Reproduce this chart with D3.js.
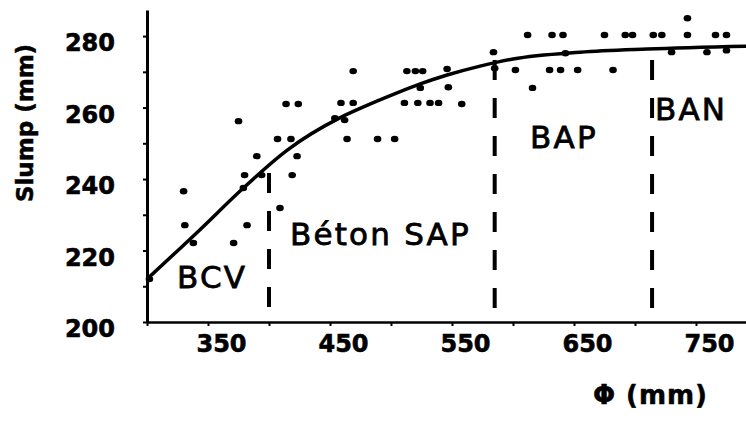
<!DOCTYPE html>
<html>
<head>
<meta charset="utf-8">
<script src="https://cdn.jsdelivr.net/npm/d3@7"></script>
<style>
  body { margin: 0; background: #fff; }
  svg { display: block; }
</style>
</head>
<body>
<svg width="746" height="421"></svg>
<script>
// measured points (diameter Φ in mm, slump in mm)
const phi = [302, 330, 331, 338, 375, 371, 382, 379, 380, 390, 394, 409, 407, 418, 419, 423, 414, 424,
  454, 459, 464, 462, 469, 469, 489, 503, 511, 522, 532, 539, 513, 520, 526, 547, 524, 558, 546,
  602, 584, 585, 612, 632, 641, 675, 692, 698, 715, 722, 743, 743, 766, 775, 616, 630, 639, 653,
  682, 643, 730, 759, 775];
const slump = [212, 236.6, 227.1, 222.1, 256.2, 222.1, 227.1, 237.5, 241.1, 246.4, 241.1, 231.9, 251.2,
  251.2, 241.1, 246.4, 261, 261, 257, 261.3, 251.2, 256.5, 270.2, 261.3, 251.2, 251.2, 261.3, 261.3,
  261.3, 261.3, 270.2, 270.2, 270.2, 265.7, 265.5, 261, 270.8, 270.5, 275.5, 271, 280.3, 280.3, 280.3,
  280.3, 280.3, 280.3, 280.3, 280.3, 285, 280.3, 280.3, 280.3, 265.5, 270.5, 270.5, 270.5, 270.5,
  275.2, 275.5, 275.5, 276];

// fitted trend
const fitPhi = [300, 343, 379, 415, 458, 477, 505, 524, 546, 573, 600, 655, 710, 793];
const fitSlump = [212, 225.7, 237.5, 248.1, 257.1, 260.1, 264.1, 266.6, 269.1, 271.6, 273.6, 275.5, 276.4, 277.2];

// zone boundaries
const zoneBounds = [400, 585, 714];
const zoneTops = [241.7, 273.3, 273.3];
const zoneNames = ["BCV", "Béton SAP", "BAP", "BAN"];

const xTickVals = [300, 350, 400, 450, 500, 550, 600, 650, 700, 750];
const xLabels = [350, 450, 550, 650, 750];
const yTickVals = [200, 210, 220, 230, 240, 250, 260, 270, 280];
const yLabels = [200, 220, 240, 260, 280];

const svg = d3.select("svg");
svg.append("rect").attr("width", 746).attr("height", 421).attr("fill", "#fff");

const x = d3.scaleLinear().domain([300, 791]).range([147, 746]);
const y = d3.scaleLinear().domain([200, 287.3]).range([322, 10]);

const font = "'DejaVu Sans', Verdana, sans-serif";

// axes
const gx = svg.append("g").attr("transform", "translate(0,322)")
  .call(d3.axisBottom(x).tickValues(xTickVals).tickSize(4).tickSizeOuter(0).tickPadding(9)
    .tickFormat(d => xLabels.includes(d) ? d : ""));
gx.select(".domain").attr("stroke-width", 2.5);
gx.selectAll(".tick line").attr("stroke-width", 2);
gx.selectAll("text").attr("dx", 13)
  .style("font-family", font).style("font-weight", "bold").style("font-size", "24px")
  .attr("fill", "#000").attr("stroke", "#000").attr("stroke-width", 0.6);

const gy = svg.append("g").attr("transform", "translate(147,0)")
  .call(d3.axisLeft(y).tickValues(yTickVals).tickSize(4).tickSizeOuter(0).tickPadding(28)
    .tickFormat(d => yLabels.includes(d) ? d : ""));
gy.select(".domain").attr("stroke-width", 3);
gy.selectAll(".tick line").attr("stroke-width", 2);
gy.selectAll("text").attr("y", 7)
  .style("font-family", font).style("font-weight", "bold").style("font-size", "24px")
  .attr("fill", "#000").attr("stroke", "#000").attr("stroke-width", 0.6);

// axis titles
svg.append("text")
  .attr("transform", "translate(33,123) rotate(-90)")
  .attr("text-anchor", "middle")
  .style("font-family", font).style("font-weight", "bold").style("font-size", "23px")
  .attr("stroke", "#000").attr("stroke-width", 0.5)
  .text("Slump (mm)");

svg.append("text")
  .attr("x", 708).attr("y", 404)
  .attr("text-anchor", "end")
  .style("font-family", font).style("font-weight", "bold").style("font-size", "26px")
  .style("letter-spacing", "1px")
  .attr("stroke", "#000").attr("stroke-width", 0.5)
  .text("Φ (mm)");

// zone dividers
svg.selectAll(".zone")
  .data(zoneBounds)
  .enter()
  .append("line")
  .attr("class", "zone")
  .attr("x1", d => x(d)).attr("x2", d => x(d))
  .attr("y1", (d, i) => y(zoneTops[i])).attr("y2", y(200))
  .attr("stroke", "#000").attr("stroke-width", 4)
  .attr("stroke-dasharray", "20,18");

// zone labels (anchor in data units)
const labelAt = [[324.6, 209.5], [417.2, 221.5], [614, 248.7], [716.4, 256.5]];
svg.selectAll(".zlab")
  .data(zoneNames)
  .enter()
  .append("text")
  .attr("class", "zlab")
  .attr("x", (d, i) => x(labelAt[i][0]))
  .attr("y", (d, i) => y(labelAt[i][1]))
  .style("font-family", font)
  .style("font-size", "31px")
  .style("letter-spacing", "2.2px")
  .attr("stroke", "#000").attr("stroke-width", 0.8)
  .text(d => d);

// trend line
const line = d3.line().x(d => x(d[0])).y(d => y(d[1])).curve(d3.curveMonotoneX);
svg.append("path")
  .datum(fitPhi.map((p, i) => [p, fitSlump[i]]))
  .attr("d", line)
  .attr("fill", "none").attr("stroke", "#000").attr("stroke-width", 3.5);

// points
svg.selectAll(".pt")
  .data(phi.map((p, i) => [p, slump[i]]))
  .enter()
  .append("ellipse")
  .attr("class", "pt")
  .attr("cx", d => x(d[0])).attr("cy", d => y(d[1]))
  .attr("rx", 3.8).attr("ry", 3.2)
  .attr("fill", "#000");
</script>
</body>
</html>
